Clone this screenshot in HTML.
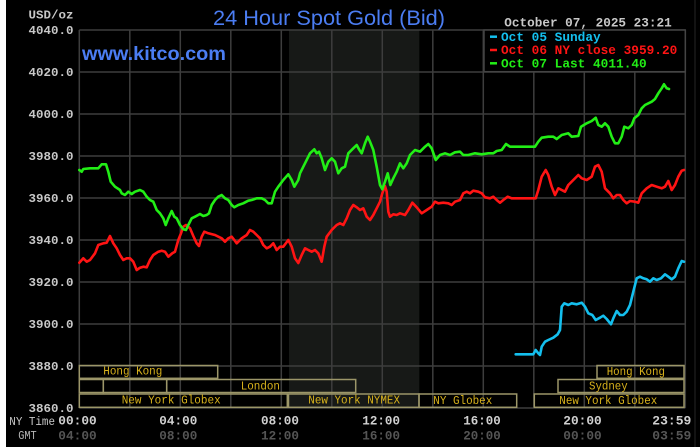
<!DOCTYPE html>
<html><head><meta charset="utf-8"><style>
html,body{margin:0;padding:0;background:#000;width:700px;height:447px;overflow:hidden}
svg{display:block}
.m{font-family:"Liberation Mono",monospace;font-weight:bold}
.s{font-family:"Liberation Mono",monospace;fill:#d8b21c;font-size:11.5px}
</style></head><body>
<svg width="700" height="447" viewBox="0 0 700 447" xmlns="http://www.w3.org/2000/svg">
<rect x="0" y="0" width="700" height="447" fill="#000"/>
<rect x="0" y="0" width="6" height="447" fill="#fff"/>
<line x1="695" y1="0" x2="695" y2="447" stroke="#262626" stroke-width="1"/>
<!-- NYMEX shade -->
<rect x="289" y="30" width="130.3" height="378" fill="#171917"/>
<!-- grid -->
<g stroke="#3d3d3d" stroke-width="1.5">
<line x1="79.3" y1="30" x2="79.3" y2="408"/><line x1="129.8" y1="30" x2="129.8" y2="408"/><line x1="180.3" y1="30" x2="180.3" y2="408"/><line x1="230.8" y1="30" x2="230.8" y2="408"/><line x1="281.3" y1="30" x2="281.3" y2="408"/><line x1="331.8" y1="30" x2="331.8" y2="408"/><line x1="382.3" y1="30" x2="382.3" y2="408"/><line x1="432.8" y1="30" x2="432.8" y2="408"/><line x1="483.3" y1="30" x2="483.3" y2="408"/><line x1="533.8" y1="30" x2="533.8" y2="408"/><line x1="584.3" y1="30" x2="584.3" y2="408"/><line x1="634.8" y1="30" x2="634.8" y2="408"/><line x1="685.3" y1="30" x2="685.3" y2="408"/>
<line x1="79.3" y1="30" x2="685.3" y2="30"/><line x1="79.3" y1="72" x2="685.3" y2="72"/><line x1="79.3" y1="114" x2="685.3" y2="114"/><line x1="79.3" y1="156" x2="685.3" y2="156"/><line x1="79.3" y1="198" x2="685.3" y2="198"/><line x1="79.3" y1="240" x2="685.3" y2="240"/><line x1="79.3" y1="282" x2="685.3" y2="282"/><line x1="79.3" y1="324" x2="685.3" y2="324"/><line x1="79.3" y1="366" x2="685.3" y2="366"/><line x1="79.3" y1="408" x2="685.3" y2="408"/>
</g>
<!-- session boxes -->
<g fill="none" stroke="#9c9669" stroke-width="1.5">
<rect x="79.3" y="365.5" width="138.4" height="12.8"/>
<rect x="597" y="365.5" width="87" height="12.8"/>
<rect x="79.3" y="379.5" width="24" height="13"/>
<rect x="103.3" y="379.5" width="63.4" height="13"/>
<rect x="166.7" y="379.5" width="189" height="13"/>
<rect x="558" y="379.5" width="126" height="13"/>
<rect x="79.3" y="394" width="208" height="13.3"/>
<rect x="288.5" y="394" width="130.5" height="13.3"/>
<rect x="419" y="394" width="97.7" height="13.3"/>
<rect x="534.3" y="394" width="149.7" height="13.3"/>
</g>
<g class="s">
<text x="103.3" y="374.5" textLength="59" lengthAdjust="spacingAndGlyphs">Hong Kong</text>
<text x="606.7" y="375" textLength="58.3" lengthAdjust="spacingAndGlyphs">Hong Kong</text>
<text x="240.7" y="389.3" textLength="39.3" lengthAdjust="spacingAndGlyphs">London</text>
<text x="589" y="389.3" textLength="38.7" lengthAdjust="spacingAndGlyphs">Sydney</text>
<text x="121.7" y="403.5" textLength="99" lengthAdjust="spacingAndGlyphs">New York Globex</text>
<text x="308.3" y="403.5" textLength="91.7" lengthAdjust="spacingAndGlyphs">New York NYMEX</text>
<text x="433.3" y="403.8" textLength="59" lengthAdjust="spacingAndGlyphs">NY Globex</text>
<text x="559.3" y="403.8" textLength="98" lengthAdjust="spacingAndGlyphs">New York Globex</text>
</g>
<!-- series -->
<g fill="none" stroke-width="2.6" stroke-linejoin="round" stroke-linecap="round">
<polyline stroke="#ff1414" points="79.3,262.7 83.3,258.3 86.7,261.7 90,260 95,253.3 98.3,245 103.3,243.3 106.7,242.7 110,236 113.3,243.3 116.7,248.3 120,255 123.3,260 126.7,258.3 130,258.3 133.3,261.7 136.7,270 140,267.7 143.3,266.7 146.7,267.3 150,260 153.3,255 158.3,251.7 161.7,250.7 165,251.7 168.3,256.7 172.3,253.3 175,251.7 178.3,240 181,233.3 183.3,226.7 186,225 190,228.3 193.3,236 196.7,243.3 199,246 201.7,236.7 204.3,231.7 208.3,233.3 215,235 221.7,238.3 225,241.7 228.3,238.3 231.7,236.7 234.3,240 236.7,243.3 241.7,238.3 246.7,235 250,230 253.3,231.7 256.7,235 260,238.3 263.3,245 266.7,248.3 270,246.7 273.3,243.3 276.7,250 280,246.7 283.3,246.7 288.3,240 291.7,246.7 295,258.3 298.3,263 301.7,255 305,248.3 308.3,250 311.7,251.7 315,250 318.3,253.3 321.7,261.7 324.3,246.7 326.7,236.7 331.7,230 336.7,225 340,223.3 343.3,225 346.7,218.3 350,210 353.3,205 356.7,207.3 360,210 363.3,208.3 366.7,216.7 370,220 373.3,215 376.7,208.3 380,201.7 382.3,193.3 385,186 386.7,191.7 388.3,211.7 390,216.7 393.3,214.3 396.7,215 400,213.3 405,215 408.3,210 412.3,202.7 416.7,207.3 421.7,213.3 426.7,210 431.7,206.7 435,201.7 438.3,203.3 443.3,202.7 448.3,203.3 451.7,205 455,201.7 460,200 463.3,193.3 466.7,191.7 470,193.3 473.3,190.7 478.3,191.7 481.7,193.3 485,197.3 490,198.3 493.3,196.7 496.7,200 500,202.7 503.3,200 507.7,196.7 511.7,198.3 535.7,198.3 538.3,190 541.7,176.7 545.7,170 548.3,175 551.7,186.7 555,195 558.3,188.3 561.7,190 565,191.7 568.3,185 573.3,180 578.3,175 581.7,178.3 586.7,180 591.7,176.7 595,166.7 598.3,165 601.7,171.7 605,188.3 610,193.3 613.3,198.3 616.7,195 620,195 623.3,200 626.7,203.3 630,201 635,201.7 638.3,202.7 641.7,193.3 646.7,188.3 651.7,185 656.7,186.7 661.7,188.3 665,186.7 668.3,181 671.7,190 675,185 678.3,176.7 681.7,170.7 684,170"/>
<polyline stroke="#22ee16" points="79.3,170 81.7,171.7 83.3,169 90,168.3 98.3,168.3 101.7,164.3 106,164.3 108.3,171.7 110.7,181.7 115,186.7 120,190 121.7,193.3 125,195 128.3,191.7 131.7,194 135,191.7 140,190 143.3,191.7 146.7,196.7 150,200 153.3,201.7 156.7,210 160,213.3 163.3,218.3 165.7,225 168.3,218.3 171.7,211 174.3,216.7 176.7,218.3 180,225 183.3,229.3 186,230 188.3,225 191.7,218.3 195,216.7 200,214 203.3,216 206.7,215 209,213.3 211.7,205 215,200 218.3,196.7 221.7,195 225,198.3 228.3,200 231.7,205 234.3,207.3 238.3,205 243.3,203.3 248.3,200.7 251.7,200 256.7,198.3 261.7,198.3 265,200 268.3,203.3 271.7,203.3 275,191.7 278.3,186.7 283.3,180 288.3,174.3 291.7,180 294.3,186.7 298.3,180 300,173.3 305,163.3 310,153.3 314.3,149.3 316.7,153.3 319,151.7 321.7,158.3 325,170 328.3,161.7 331.7,158.3 335,161.7 338.3,173.3 341.7,168.3 345,166.7 348.3,153.3 353.3,148.3 356.7,145 359,149.3 361.7,153.3 365,143.3 367.7,136.7 370,141.7 373.3,150 376.7,166.7 380,185 382.3,189.3 385,181.7 387.7,173.3 390.3,185 393.3,178.3 396.7,171.7 400,163.3 403.3,168.3 406.7,163.3 410,155 415,150 420,151.7 425,146.7 428.3,144 431.7,148.3 435.7,160 440,155 445,153.3 450,155 455,152.3 460,151.7 463.3,155 468.3,155 475,153.3 481.7,154.3 488.3,153.3 493.3,153.3 496.7,151 501.7,150 506,144 510,146.7 535,146.7 538.3,141.7 541.7,137.7 548.3,136.7 553.3,136.7 556.7,139 561.7,135 568.3,133.3 571.7,136.7 578.3,136 581,126.7 586.7,123.3 591.7,121 595.7,117.7 598.3,125 601.7,126.7 605,123.3 608.3,126.7 611.7,136.7 615,143.3 618.3,143.3 621.7,136.7 624.3,126.7 628.3,128.3 631.7,125 634.3,118.3 638.3,115 641.7,108.3 645,105 651.7,101.7 655,99 658.3,93.3 661.7,88.3 664,84.3 666.7,88.3 669,89"/>
<polyline stroke="#14bfee" points="515.7,354.3 533.3,354.3 535.7,350 538.3,353.3 540,355 541.7,346.7 545,341.7 548.3,340 553.3,337.7 557.7,334.3 560,330 561.7,306.7 564.3,303.3 568.3,305 571.7,303.3 576.7,304.3 581.7,302.7 585,306.7 588.3,313.3 592.3,315 595.7,320 600,317.7 603.3,315.7 606.7,319 611,324.3 613.3,318.3 616.7,311 620,315 623.3,315 626.7,311.7 630,305 633.3,291.7 636.7,278.3 640,276.7 643.3,278.3 646.7,279.3 650,281.7 653.3,278.3 656.7,280 661,278.3 665,274.3 668.3,276.7 671.7,279.3 675,276.7 678.3,268.3 681.7,261 684,261.7"/>
</g>
<!-- legend -->
<rect x="484" y="30" width="201.3" height="41.7" fill="#000" stroke="#444" stroke-width="1.5"/>
<g stroke-width="2.5">
<line x1="490" y1="36.7" x2="497" y2="36.7" stroke="#14bfee"/>
<line x1="490" y1="50" x2="497" y2="50" stroke="#ff1414"/>
<line x1="490" y1="63.3" x2="497" y2="63.3" stroke="#22ee16"/>
</g>
<g class="m" font-size="12.5">
<text x="501" y="40.8" fill="#14bfee" textLength="99.7" lengthAdjust="spacingAndGlyphs">Oct 05 Sunday</text>
<text x="501" y="54.2" fill="#ff1414" textLength="176.3" lengthAdjust="spacingAndGlyphs">Oct 06 NY close 3959.20</text>
<text x="501" y="67.5" fill="#22ee16" textLength="145.7" lengthAdjust="spacingAndGlyphs">Oct 07 Last 4011.40</text>
</g>
<!-- titles -->
<text x="213" y="25" fill="#4b7df2" font-family="Liberation Sans, sans-serif" font-size="21.5" textLength="232" lengthAdjust="spacingAndGlyphs">24 Hour Spot Gold (Bid)</text>
<text x="82" y="60" fill="#4b7df2" font-family="Liberation Sans, sans-serif" font-weight="bold" font-size="19.5" textLength="144" lengthAdjust="spacingAndGlyphs">www.kitco.com</text>
<text class="m" x="504.3" y="26.7" fill="#c8c8c8" font-size="12.5" textLength="167.4" lengthAdjust="spacingAndGlyphs">October 07, 2025 23:21</text>
<!-- y axis labels -->
<g class="m" fill="#c8c8c8" font-size="12" text-anchor="end">
<text x="73.5" y="18.3" textLength="45" lengthAdjust="spacingAndGlyphs">USD/oz</text>
<text x="73.5" y="34" textLength="45" lengthAdjust="spacingAndGlyphs">4040.0</text>
<text x="73.5" y="76" textLength="45" lengthAdjust="spacingAndGlyphs">4020.0</text>
<text x="73.5" y="118" textLength="45" lengthAdjust="spacingAndGlyphs">4000.0</text>
<text x="73.5" y="160" textLength="45" lengthAdjust="spacingAndGlyphs">3980.0</text>
<text x="73.5" y="202" textLength="45" lengthAdjust="spacingAndGlyphs">3960.0</text>
<text x="73.5" y="244" textLength="45" lengthAdjust="spacingAndGlyphs">3940.0</text>
<text x="73.5" y="286" textLength="45" lengthAdjust="spacingAndGlyphs">3920.0</text>
<text x="73.5" y="328" textLength="45" lengthAdjust="spacingAndGlyphs">3900.0</text>
<text x="73.5" y="370" textLength="45" lengthAdjust="spacingAndGlyphs">3880.0</text>
<text x="73.5" y="412" textLength="45" lengthAdjust="spacingAndGlyphs">3860.0</text>
</g>
<!-- x axis labels -->
<text x="9.3" y="425" fill="#c8c8c8" font-family="Liberation Mono, monospace" font-size="12" textLength="45.7" lengthAdjust="spacingAndGlyphs">NY Time</text>
<text x="18.3" y="439" fill="#b8b8b8" font-family="Liberation Mono, monospace" font-size="12" textLength="18.4" lengthAdjust="spacingAndGlyphs">GMT</text>
<g class="m" fill="#d0d0d0" font-size="12.5">
<text x="58.3" y="424.5" textLength="38.4" lengthAdjust="spacingAndGlyphs">00:00</text>
<text x="159.3" y="424.5" textLength="38" lengthAdjust="spacingAndGlyphs">04:00</text>
<text x="261" y="424.5" textLength="38" lengthAdjust="spacingAndGlyphs">08:00</text>
<text x="362.3" y="424.5" textLength="37.7" lengthAdjust="spacingAndGlyphs">12:00</text>
<text x="463.3" y="424.5" textLength="37.4" lengthAdjust="spacingAndGlyphs">16:00</text>
<text x="563.3" y="424.5" textLength="38.4" lengthAdjust="spacingAndGlyphs">20:00</text>
<text x="652.3" y="424.5" textLength="39" lengthAdjust="spacingAndGlyphs">23:59</text>
</g>
<g class="m" fill="#555" font-size="12.5">
<text x="58.3" y="439.3" textLength="38.4" lengthAdjust="spacingAndGlyphs">04:00</text>
<text x="159.3" y="439.3" textLength="38" lengthAdjust="spacingAndGlyphs">08:00</text>
<text x="261" y="439.3" textLength="38" lengthAdjust="spacingAndGlyphs">12:00</text>
<text x="362.3" y="439.3" textLength="37.7" lengthAdjust="spacingAndGlyphs">16:00</text>
<text x="463.3" y="439.3" textLength="37.4" lengthAdjust="spacingAndGlyphs">20:00</text>
<text x="563.3" y="439.3" textLength="38.4" lengthAdjust="spacingAndGlyphs">00:00</text>
<text x="652.3" y="439.3" textLength="39" lengthAdjust="spacingAndGlyphs">03:59</text>
</g>
</svg>
</body></html>
